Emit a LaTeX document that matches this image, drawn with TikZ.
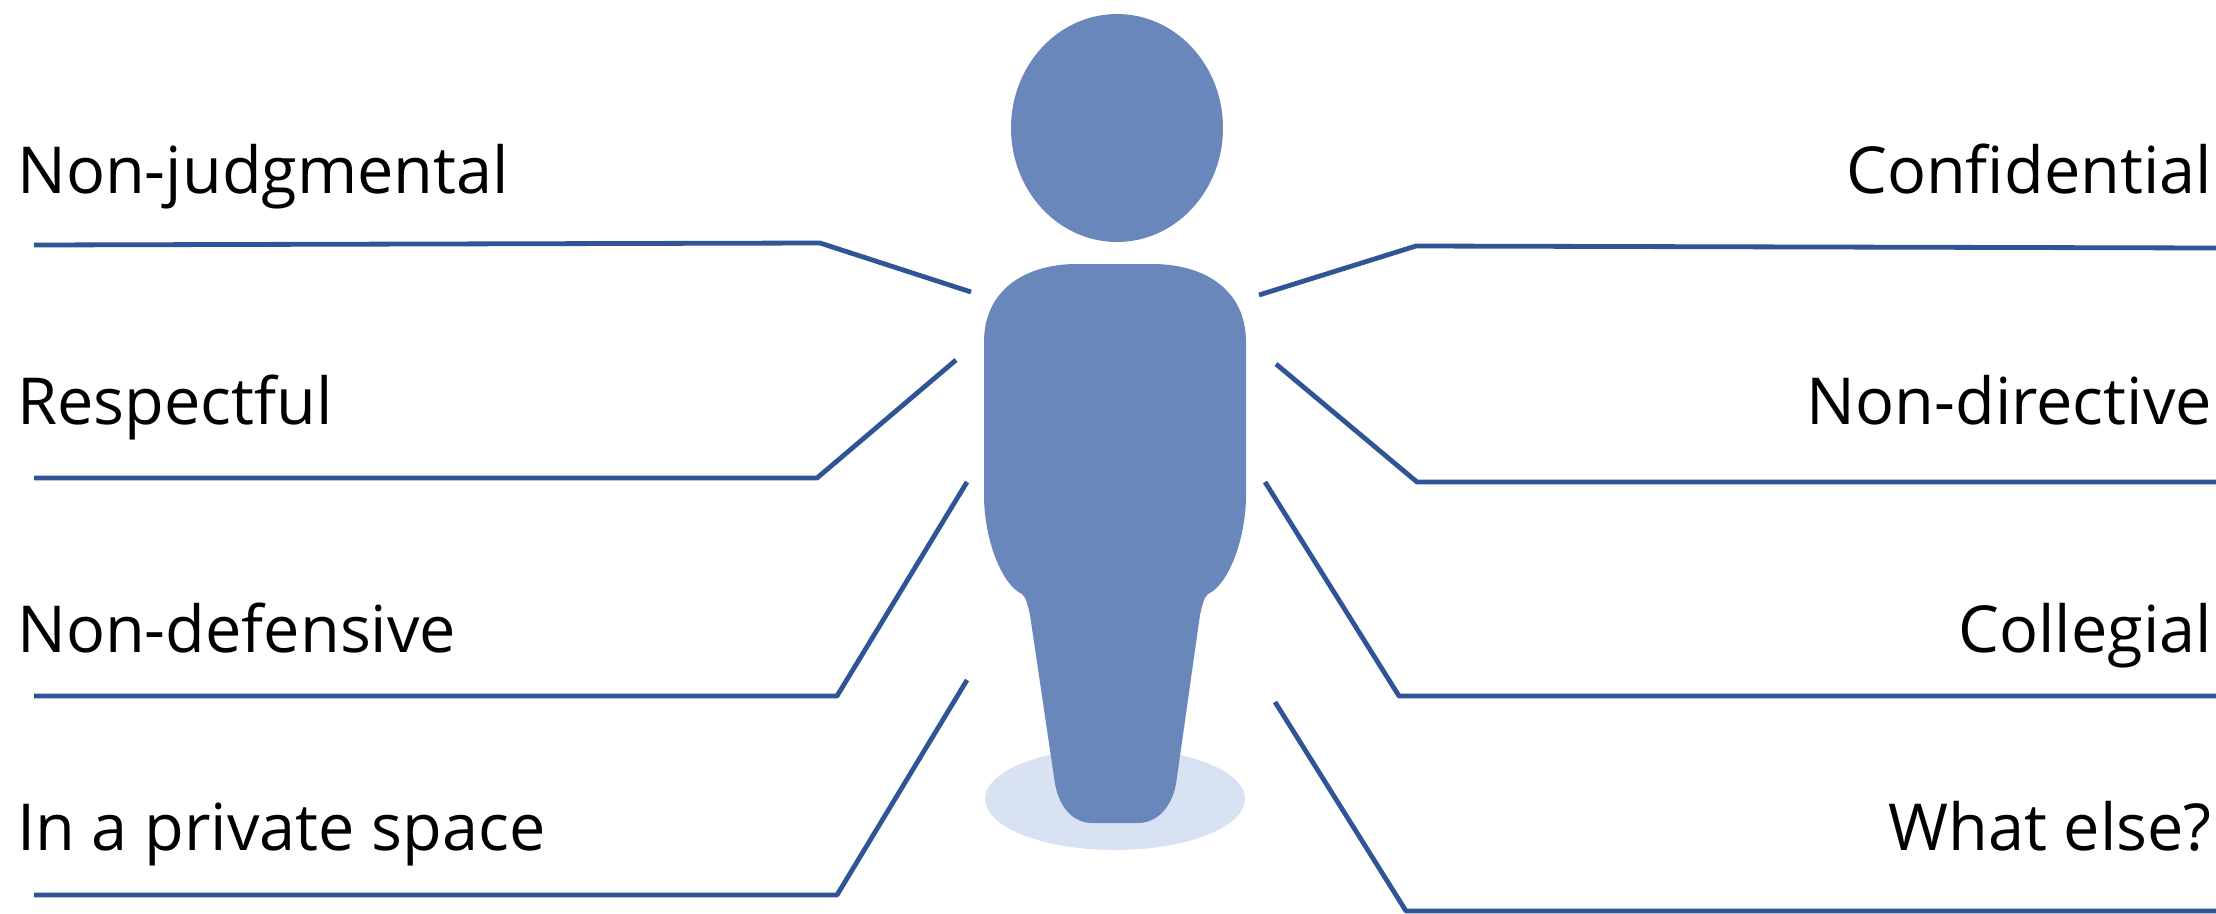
\documentclass[tikz,border=0pt]{standalone}
\usepackage{fontspec}
\setmainfont{Open Sans}
\definecolor{fig}{HTML}{6A87BC}
\definecolor{shadow}{HTML}{D9E2F3}
\definecolor{ln}{HTML}{2F5597}
\tikzset{lbl/.style={font=\fontsize{64.8}{76}\selectfont,inner sep=0pt,text=black},
leader/.style={draw=ln,line width=4.8pt}}
\begin{document}
\begin{tikzpicture}[x=1pt,y=-1pt,line join=round]
\useasboundingbox (0,0) rectangle (2216,913);
\fill[white] (0,0) rectangle (2216,913);
\fill[shadow] (1115,799) ellipse [x radius=130,y radius=51];
\fill[fig] (1117,128) ellipse [x radius=106,y radius=114];
\fill[fig] (1077,264) -- (1152,264) .. controls (1205,264) and (1246,290) .. (1246,342) -- (1246,495) .. controls (1246,540) and (1228,585) .. (1208,594) .. controls (1204,597) and (1202,606) .. (1200,615) -- (1176,784) .. controls (1171,810) and (1155,823) .. (1138,823) -- (1092,823) .. controls (1075,823) and (1060,810) .. (1055,784) -- (1030,615) .. controls (1028,606) and (1026,597) .. (1022,594) .. controls (1002,585) and (984,540) .. (984,495) -- (984,342) .. controls (984,290) and (1025,264) .. (1077,264) -- cycle;
\coordinate (a1) at (34,245); \coordinate (a2) at (820,243); \coordinate (a3) at (971,292);
\coordinate (b1) at (34,478); \coordinate (b2) at (817,478); \coordinate (b3) at (956,360);
\coordinate (c1) at (34,696); \coordinate (c2) at (837,696); \coordinate (c3) at (967,482);
\coordinate (d1) at (34,895); \coordinate (d2) at (837,895); \coordinate (d3) at (967,680);
\coordinate (e1) at (2216,248); \coordinate (e2) at (1416,246); \coordinate (e3) at (1259,295);
\coordinate (f1) at (2216,482); \coordinate (f2) at (1417,482); \coordinate (f3) at (1276,364);
\coordinate (g1) at (2216,696); \coordinate (g2) at (1399,696); \coordinate (g3) at (1265,482);
\coordinate (h1) at (2216,911); \coordinate (h2) at (1406,911); \coordinate (h3) at (1275,702);
\draw[leader] (a1)--(a2)--(a3);
\draw[leader] (b1)--(b2)--(b3);
\draw[leader] (c1)--(c2)--(c3);
\draw[leader] (d1)--(d2)--(d3);
\draw[leader] (e1)--(e2)--(e3);
\draw[leader] (f1)--(f2)--(f3);
\draw[leader] (g1)--(g2)--(g3);
\draw[leader] (h1)--(h2)--(h3);
\node[lbl,anchor=base west] (t1) at (17,193) {Non-judgmental};
\node[lbl,anchor=base west] (t2) at (17,424) {Respectful};
\node[lbl,anchor=base west] (t3) at (17,652) {Non-defensive};
\node[lbl,anchor=base west] (t4) at (17,850) {In a private space};
\node[lbl,anchor=base east] (t5) at (2212,193) {Confidential};
\node[lbl,anchor=base east] (t6) at (2212,424) {Non-directive};
\node[lbl,anchor=base east] (t7) at (2212,652) {Collegial};
\node[lbl,anchor=base east] (t8) at (2212,850) {What else?};
\end{tikzpicture}
\end{document}
